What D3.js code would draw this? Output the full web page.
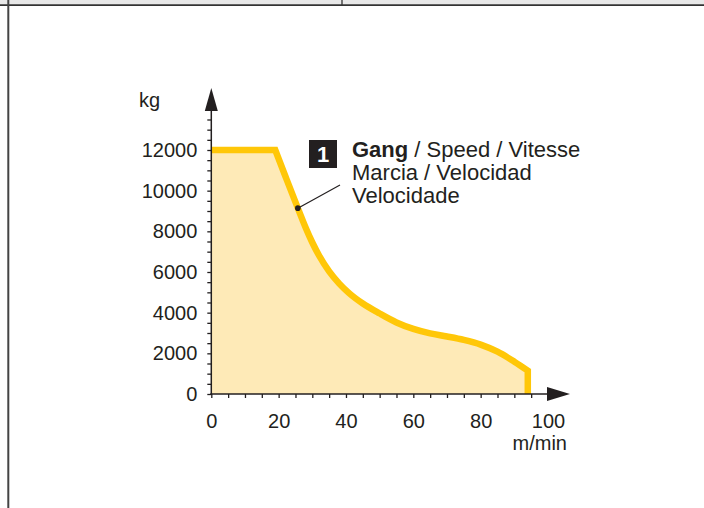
<!DOCTYPE html>
<html>
<head>
<meta charset="utf-8">
<script src="https://cdn.jsdelivr.net/npm/d3@7"></script>
<style>
  body { margin: 0; background: #fff; }
  svg { display: block; font-family: "Liberation Sans", Arial, Helvetica, sans-serif; }
  .tick text { font-size: 20px; fill: #231f20; }
  .tick line { stroke: #231f20; stroke-width: 1.3; }
  .label { font-size: 20px; fill: #231f20; }
  .note { font-size: 22px; fill: #231f20; }
</style>
</head>
<body>
<svg width="704" height="508"></svg>
<script>
const width = 704, height = 508;

// speed (m/min) vs. load (kg)
const speed = [0, 19, 22, 25.7, 28, 30, 32, 35, 38, 41, 45, 50, 55, 60, 65, 70, 75, 80, 85, 90, 94];
const load = [12000, 12000, 10710, 9140, 8190, 7450, 6810, 6030, 5430, 4950, 4450, 3960, 3520, 3200, 2980, 2830, 2660, 2430, 2080, 1590, 1150];
const cornerIndex = 1;   // end of the flat part
const dotIndex = 3;      // point the callout points to

const xLabels = [0, 20, 40, 60, 80, 100];
const yLabels = [0, 2000, 4000, 6000, 8000, 10000, 12000];
const xMinor = d3.range(0, 96, 5);
const yMinor = d3.range(0, 14000, 500);
const noteLines = [["Gang", " / Speed / Vitesse"], ["", "Marcia / Velocidad"], ["", "Velocidade"]];

const svg = d3.select("svg");
const x = d3.scaleLinear().domain([0, 100]).range([211.3, 548]);
const y = d3.scaleLinear().domain([0, 12000]).range([394, 150]);

// frame: grey strip on top, left border
svg.append("rect").attr("x", 0).attr("y", 0).attr("width", width).attr("height", 4.5).attr("fill", "#e8e8e8");
svg.append("line").attr("x1", 0).attr("x2", width).attr("y1", 5.2).attr("y2", 5.2)
    .attr("stroke", "#333").attr("stroke-width", 1.8);
svg.append("line").attr("x1", 342).attr("x2", 342).attr("y1", 0).attr("y2", 5)
    .attr("stroke", "#333").attr("stroke-width", 1.3);
svg.append("line").attr("x1", 8.3).attr("x2", 8.3).attr("y1", 0).attr("y2", height)
    .attr("stroke", "#444").attr("stroke-width", 2);

// curve path: straight flat part, smooth descent, vertical drop
const pts = speed.map((s, i) => [s, load[i]]);
const flat = d3.line().x(d => x(d[0])).y(d => y(d[1]))(pts.slice(0, cornerIndex + 1));
const curve = d3.line().x(d => x(d[0])).y(d => y(d[1])).curve(d3.curveMonotoneX)(pts.slice(cornerIndex));
const last = pts[pts.length - 1];
const linePath = flat + curve.replace(/^M/, "L") + `L${x(last[0])},${y(0)}`;

svg.append("path")
    .attr("d", linePath + `L${x(0)},${y(0)}Z`)
    .attr("fill", "#feeab7");

svg.append("path")
    .attr("d", linePath)
    .attr("fill", "none")
    .attr("stroke", "#ffc708")
    .attr("stroke-width", 6.5)
    .attr("stroke-linejoin", "miter");

// axes ticks
svg.append("g")
    .attr("transform", `translate(${x(0)},0)`)
    .call(d3.axisLeft(y).tickValues(yMinor).tickSize(4).tickFormat(""))
    .call(g => g.select(".domain").remove());
svg.append("g")
    .attr("transform", `translate(${x(0)},0)`)
    .call(d3.axisLeft(y).tickValues(yLabels).tickSize(0).tickPadding(14).tickFormat(d3.format("d")))
    .call(g => g.select(".domain").remove());

svg.append("g")
    .attr("transform", `translate(0,${y(0)})`)
    .call(d3.axisBottom(x).tickValues(xMinor).tickSize(4).tickFormat(""))
    .call(g => g.select(".domain").remove());
svg.append("g")
    .attr("transform", `translate(0,${y(0)})`)
    .call(d3.axisBottom(x).tickValues(xLabels).tickSize(0).tickPadding(20))
    .call(g => g.select(".domain").remove());

// axis lines with arrows
const x0 = x(0), y0 = y(0);
svg.append("line").attr("x1", x0).attr("x2", x0).attr("y1", y0 + 1).attr("y2", 105)
    .attr("stroke", "#231f20").attr("stroke-width", 1.5);
svg.append("path").attr("d", `M${x0},88L${x0 + 6.5},111L${x0 - 6.5},111Z`).attr("fill", "#231f20");
svg.append("line").attr("x1", x0 - 1).attr("x2", 552).attr("y1", y0).attr("y2", y0)
    .attr("stroke", "#231f20").attr("stroke-width", 1.5);
svg.append("path").attr("d", `M570,${y0}L547,${y0 - 7}L547,${y0 + 7}Z`).attr("fill", "#231f20");

svg.append("text").attr("class", "label").attr("x", 160).attr("y", 107)
    .attr("text-anchor", "end").text("kg");
svg.append("text").attr("class", "label").attr("x", 567).attr("y", 450)
    .attr("text-anchor", "end").text("m/min");

// callout
const dot = pts[dotIndex];
svg.append("line")
    .attr("x1", x(dot[0])).attr("y1", y(dot[1]))
    .attr("x2", 340).attr("y2", 185)
    .attr("stroke", "#231f20").attr("stroke-width", 1.2);
svg.append("circle").attr("cx", x(dot[0])).attr("cy", y(dot[1])).attr("r", 2.8).attr("fill", "#231f20");

svg.append("rect").attr("x", 309).attr("y", 140).attr("width", 28).attr("height", 28).attr("fill", "#231f20");
svg.append("text").attr("x", 323).attr("y", 162).attr("text-anchor", "middle")
    .attr("font-size", 22).attr("font-weight", "bold").attr("fill", "#fff").text("1");

const note = svg.append("text").attr("class", "note");
noteLines.forEach((l, i) => {
    const t = note.append("tspan").attr("x", 352).attr("y", 157 + i * 23);
    if (l[0]) t.append("tspan").attr("font-weight", "bold").text(l[0]);
    t.append("tspan").text(l[1]);
});
</script>
</body>
</html>
